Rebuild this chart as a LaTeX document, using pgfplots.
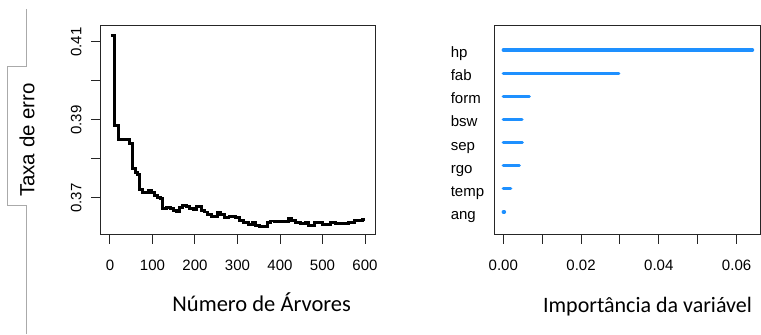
\documentclass[border=0pt]{standalone}
\usepackage{pgfplots}
\pgfplotsset{compat=1.18}
\usepackage{fontspec}
\setmainfont{Liberation Sans}
\newfontfamily\calibri{Carlito}
\definecolor{barblue}{RGB}{30,144,255}
\definecolor{framegray}{RGB}{170,170,170}
\begin{document}
\begin{tikzpicture}[x=1pt,y=1pt]
\path (0,0) rectangle (761,334);
\draw[framegray, line width=0.8pt] (26,325) -- (26,267.3) -- (7.3,267.3) -- (7.3,129) -- (26,129) -- (26,0);
\begin{axis}[
  at={(100pt,99pt)}, anchor=south west, scale only axis, width=275pt, height=209pt,
  xmin=-23.5, xmax=623.5, ymin=0.3605, ymax=0.4141,
  axis line style={black!85, line width=1pt},
  tick style={black!85, line width=1pt},
  tick align=outside, major tick length=9pt,
  xtick pos=bottom, ytick pos=left,
  xtick={0,100,...,600},
  ytick={0.37,0.38,0.39,0.40,0.41},
  yticklabels={0.37,,0.39,,0.41},
  /pgf/number format/assume math mode=true,
  ticklabel style={font=\fontsize{15}{18}\selectfont},
  xticklabel style={anchor=base, yshift=-26.5pt},
  yticklabel style={anchor=base, xshift=-9.6pt, rotate=90},
]
\addplot[const plot, black, line width=2.9pt] coordinates {
(2,0.4117) (11,0.3885) (21,0.3849) (46,0.3840) (53,0.3775) (60,0.3766) (65,0.3760)
(70,0.3721) (77,0.3715) (90,0.3719) (98,0.3713) (105,0.3707) (112,0.3702) (118,0.3698)
(124,0.3673) (132,0.3675) (142,0.3673) (150,0.3668) (157,0.3664) (163,0.3675) (170,0.3681)
(180,0.3679) (188,0.3673) (196,0.3670) (204,0.3679) (211,0.3677) (215,0.3668) (222,0.3664)
(230,0.3658) (238,0.3653) (254,0.3664) (261,0.3658) (269,0.3651) (280,0.3653) (295,0.3651)
(305,0.3643) (315,0.3636) (326,0.3633) (335,0.3636) (343,0.3630) (352,0.3627) (370,0.3636)
(378,0.3641) (388,0.3640) (420,0.3647) (428,0.3643) (436,0.3638) (448,0.3634) (460,0.3636)
(468,0.3629) (481,0.3638) (500,0.3633) (519,0.3638) (530,0.3634) (562,0.3638) (575,0.3643)
(595,0.3645) (600,0.3645)
};
\end{axis}
\begin{axis}[
  at={(494pt,99pt)}, anchor=south west, scale only axis, width=266.5pt, height=209pt,
  xmin=-0.00239, xmax=0.06615, ymin=0, ymax=9.04,
  axis line style={black!85, line width=1pt},
  tick style={black!85, line width=1pt},
  tick align=outside, major tick length=9pt,
  xtick pos=bottom, ytick pos=left,
  scaled x ticks=false,
  xtick={0,0.01,0.02,0.03,0.04,0.05,0.06},
  xticklabels={0.00,,0.02,,0.04,,0.06},
  ytick={1,2,3,4,5,6,7,8},
  yticklabels={ang,temp,rgo,sep,bsw,form,fab,hp},
  y tick style={draw=none},
  ticklabel style={font=\fontsize{15}{18}\selectfont},
  xticklabel style={anchor=base, yshift=-26.5pt},
  yticklabel style={anchor=base east, text width=40pt, align=left, inner sep=0pt, xshift=6pt, yshift=-7.5pt},
]
\addplot[xcomb, barblue, line width=3.3pt, line cap=round] coordinates {
(0.0641,8) (0.0297,7) (0.0067,6) (0.0048,5) (0.0049,4) (0.0041,3) (0.0019,2) (0.0003,1)
};
\end{axis}
\node[anchor=base, font=\calibri\fontsize{22.5}{26}\selectfont] at (261.7,22.3) {Número de Árvores};
\node[anchor=base, font=\calibri\fontsize{22}{26}\selectfont] at (647.5,21.7) {Importância da variável};
\node[anchor=base, rotate=90, font=\fontsize{20.5}{24}\selectfont] at (34.3,194) {Taxa de erro};
\end{tikzpicture}
\end{document}
